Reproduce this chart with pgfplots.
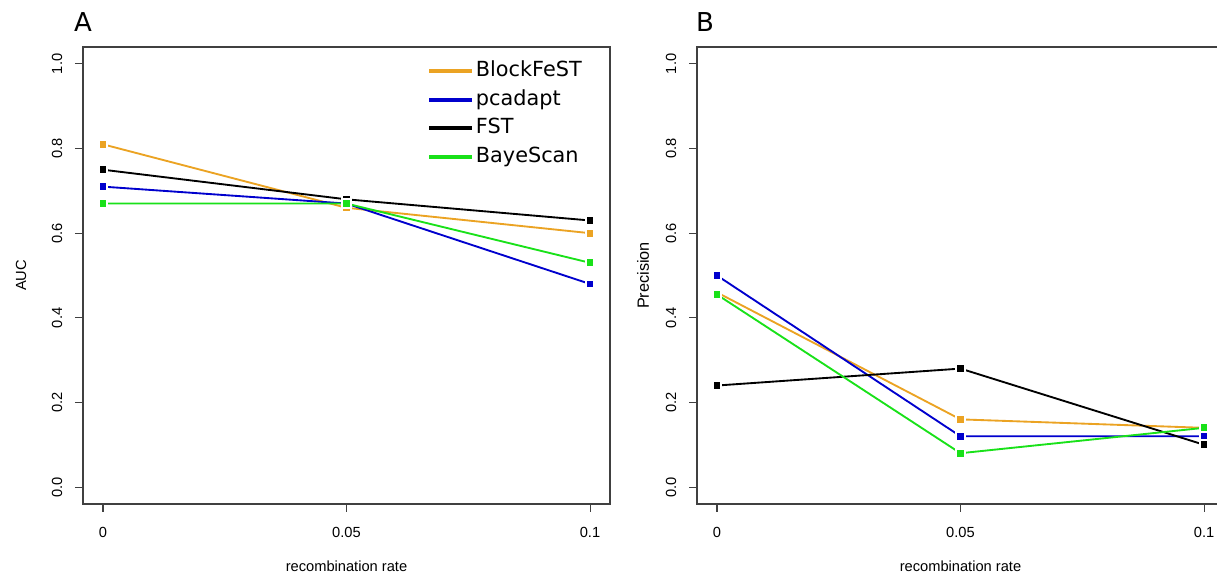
\documentclass[border=0pt]{standalone}
\usepackage{pgfplots}
\pgfplotsset{compat=1.18}
\usepackage{fontspec}
\setmainfont{Liberation Sans}
\newfontfamily\dejavu{DejaVu Sans}

\definecolor{cBlock}{RGB}{235,163,35}
\definecolor{cPca}{RGB}{0,0,205}
\definecolor{cFst}{RGB}{0,0,0}
\definecolor{cBaye}{RGB}{25,225,25}

\pgfplotsset{
    rpanel/.style={
        scale only axis,
        width=395.25pt,
        height=342.75pt,
        anchor=south west,
        xmin=-0.0041, xmax=0.1041,
        ymin=-0.04, ymax=1.04,
        xtick={0,0.05,0.1},
        xticklabels={0,0.05,0.1},
        ytick={0,0.2,0.4,0.6,0.8,1.0},
        yticklabels={0.0,0.2,0.4,0.6,0.8,1.0},
        xtick pos=lower, ytick pos=left,
        tick align=outside,
        major tick length=6pt,
        axis line style={black!75, line width=0.8pt},
        tick style={black!75, line width=0.8pt},
        /pgf/number format/assume math mode=true,
        tick label style={font=\fontsize{11}{13}\selectfont},
        xticklabel style={yshift=-8pt},
        yticklabel style={rotate=90, anchor=south, yshift=6pt},
        label style={font=\fontsize{11}{13}\selectfont},
        xlabel style={at={(axis description cs:0.5,0)}, anchor=center, yshift=-47pt},
        ylabel style={at={([xshift=-46.5pt]axis description cs:0,0.5)}, anchor=center},
        every axis plot/.append style={line width=1.4pt, mark=square*, mark size=3.3pt},
        legend image code/.code={\draw[line width=3pt] (0pt,0pt) -- (32pt,0pt);},
        clip=false,
    },
}

\begin{document}
\begin{tikzpicture}
\path[use as bounding box] (0,0) rectangle (912.75pt,433.5pt);

% panel A: AUC
\begin{axis}[rpanel,
    at={(62.25pt,55.5pt)},
    xlabel={recombination rate},
    ylabel={AUC},
    legend style={at={(axis description cs:0,1)}, anchor=north west,
        xshift=258pt, yshift=-9.5pt, draw=none, fill=none, inner sep=0pt,
        font=\dejavu\fontsize{15.6}{17}\selectfont,
        nodes={inner sep=1.5pt, text height=11pt, text depth=3pt},
        row sep=4.4pt},
    legend cell align=left,
]
\addplot[cBlock, mark options={fill=cBlock, draw=white, line width=1.5pt}]
    coordinates {(0,0.81) (0.05,0.66) (0.1,0.60)};
\addlegendentry{BlockFeST}
\addplot[cPca, mark options={fill=cPca, draw=white, line width=1.5pt}]
    coordinates {(0,0.71) (0.05,0.67) (0.1,0.48)};
\addlegendentry{pcadapt}
\addplot[cFst, mark options={fill=cFst, draw=white, line width=1.5pt}]
    coordinates {(0,0.75) (0.05,0.68) (0.1,0.63)};
\addlegendentry{FST}
\addplot[cBaye, mark options={fill=cBaye, draw=white, line width=1.5pt}]
    coordinates {(0,0.67) (0.05,0.67) (0.1,0.53)};
\addlegendentry{BayeScan}
\end{axis}

% panel B: precision
\begin{axis}[rpanel,
    at={(522.75pt,55.5pt)},
    xlabel={recombination rate},
    ylabel={Precision},
    ylabel style={at={([xshift=-40.5pt]axis description cs:0,0.5)},
        font=\fontsize{12.2}{14}\selectfont},
]
\addplot[cBlock, mark options={fill=cBlock, draw=white, line width=1.5pt}]
    coordinates {(0,0.46) (0.05,0.16) (0.1,0.14)};
\addplot[cPca, mark options={fill=cPca, draw=white, line width=1.5pt}]
    coordinates {(0,0.50) (0.05,0.12) (0.1,0.12)};
\addplot[cFst, mark options={fill=cFst, draw=white, line width=1.5pt}]
    coordinates {(0,0.24) (0.05,0.28) (0.1,0.10)};
\addplot[cBaye, mark options={fill=cBaye, draw=white, line width=1.5pt}]
    coordinates {(0,0.455) (0.05,0.08) (0.1,0.14)};
\end{axis}

\node[anchor=base, font=\dejavu\fontsize{19.5}{22}\selectfont] at (62.25pt,409.5pt) {A};
\node[anchor=base, font=\dejavu\fontsize{19.5}{22}\selectfont] at (528.75pt,409.5pt) {B};
\end{tikzpicture}
\end{document}
